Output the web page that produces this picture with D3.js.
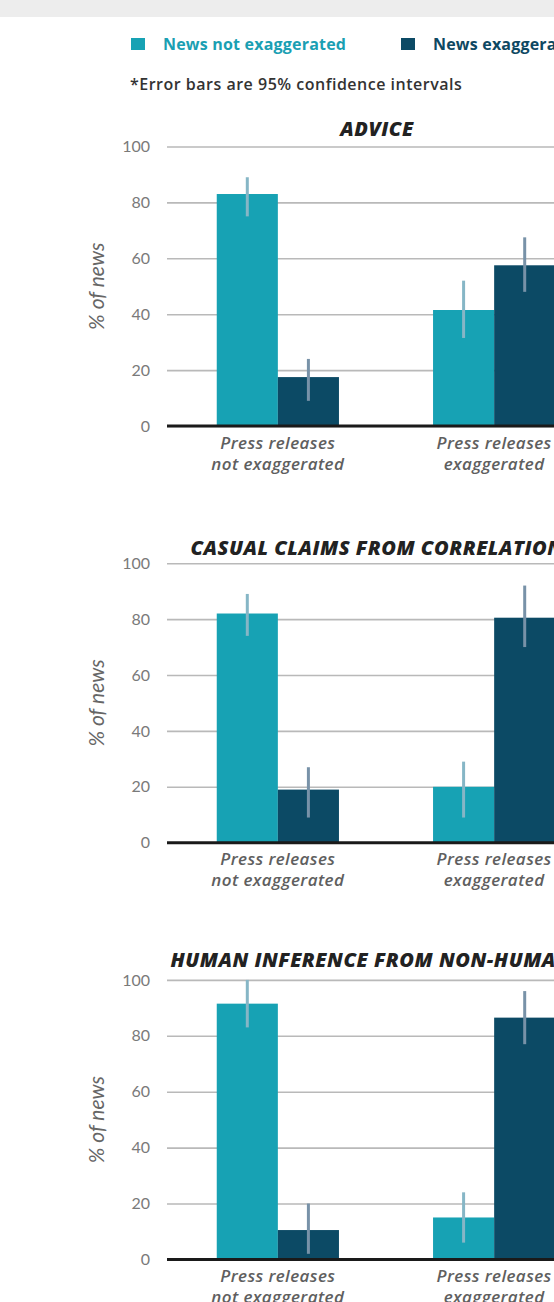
<!DOCTYPE html>
<html>
<head>
<meta charset="utf-8">
<script src="https://cdn.jsdelivr.net/npm/d3@7"></script>
<style>
  html, body { margin: 0; padding: 0; background: #fff; overflow: hidden; }
  svg { display: block; }
</style>
</head>
<body>
<div id="chart"></div>
<script>
// Share of news stories by press-release exaggeration, three claim types
const categories = ["Press releases not exaggerated", "Press releases exaggerated"];
const categoryLines = [["Press releases", "not exaggerated"], ["Press releases", "exaggerated"]];
const seriesNames = ["News not exaggerated", "News exaggerated"];
const panelTitles = ["ADVICE", "CASUAL CLAIMS FROM CORRELATION", "HUMAN INFERENCE FROM NON-HUMANS"];
const yTicks = [0, 20, 40, 60, 80, 100];

// Values (% of news) per category, one array per series and panel
const adviceNotExag = [83, 41.5];
const adviceExag = [17.5, 57.5];
const causalNotExag = [82, 20];
const causalExag = [19, 80.5];
const humanNotExag = [91.5, 15];
const humanExag = [10.5, 86.5];

// 95% confidence intervals [low, high]
const adviceNotExagCI = [[75, 89], [31.5, 52]];
const adviceExagCI = [[9, 24], [48, 67.5]];
const causalNotExagCI = [[74, 89], [9, 29]];
const causalExagCI = [[9, 27], [70, 92]];
const humanNotExagCI = [[83, 100], [6, 24]];
const humanExagCI = [[2, 20], [77, 96]];

const panelValues = [
  [adviceNotExag, adviceExag],
  [causalNotExag, causalExag],
  [humanNotExag, humanExag]
];
const panelCIs = [
  [adviceNotExagCI, adviceExagCI],
  [causalNotExagCI, causalExagCI],
  [humanNotExagCI, humanExagCI]
];

const colors = ["#17a2b4", "#0c4a65"];
const W = 554, H = 1302;

const svg = d3.select("#chart").append("svg")
  .attr("width", W).attr("height", H);

// top strip
svg.append("rect").attr("x", 0).attr("y", 0).attr("width", W).attr("height", 17)
  .attr("fill", "#ededed");

// legend
const legendX = [131, 401];
const legend = svg.append("g");
seriesNames.forEach((name, i) => {
  legend.append("rect").attr("x", legendX[i]).attr("y", 38).attr("width", 14).attr("height", 12)
    .attr("fill", colors[i]);
  legend.append("text").attr("x", legendX[i] + 32).attr("y", 49.5)
    .attr("font-family", "Open Sans").attr("font-weight", 700).attr("font-size", 16)
    .attr("letter-spacing", 0.2)
    .attr("fill", i === 0 ? "#1a9fb3" : "#0e4862")
    .text(name);
});
svg.append("text").attr("x", 130).attr("y", 90)
  .attr("font-family", "Open Sans").attr("font-weight", 600).attr("font-size", 16)
  .attr("letter-spacing", 0.5)
  .attr("fill", "#333")
  .text("*Error bars are 95% confidence intervals");

const plotLeft = 167, plotRight = 605, plotH = 279.5;
const panelTops = [146.5, 563.2, 979.9];
const titleGaps = [11, 8, 13];
const titleCenterX = 377;

const x0 = d3.scaleBand().domain(categories).range([plotLeft, plotRight])
  .paddingInner(0.435).paddingOuter(0.23);
const x1 = d3.scaleBand().domain(seriesNames).range([0, x0.bandwidth()]);

panelTitles.forEach((title, p) => {
  const top = panelTops[p];
  const y = d3.scaleLinear().domain([0, 100]).range([top + plotH, top]);
  const g = svg.append("g");

  // gridlines + tick labels
  const axis = d3.axisLeft(y).tickValues(yTicks).tickSize(-(plotRight - plotLeft)).tickPadding(17);
  const ax = g.append("g").attr("transform", `translate(${plotLeft},0)`).call(axis);
  ax.select(".domain").remove();
  ax.selectAll(".tick line").attr("stroke", "#b9b9b9").attr("stroke-width", 1.6);
  ax.selectAll(".tick text").attr("font-family", "Lato").attr("font-size", 16)
    .attr("fill", "#7a7a7a");

  // title
  g.append("text").attr("x", titleCenterX).attr("y", top - titleGaps[p])
    .attr("text-anchor", "middle")
    .attr("font-family", "Open Sans").attr("font-weight", 800).attr("font-style", "italic")
    .attr("font-size", 20).attr("letter-spacing", 0.5).attr("fill", "#222")
    .text(title);

  // y label
  g.append("text")
    .attr("transform", `translate(104,${top + plotH / 2}) rotate(-90)`)
    .attr("text-anchor", "middle")
    .attr("font-family", "Lato").attr("font-style", "italic").attr("font-size", 21)
    .attr("fill", "#666")
    .text("% of news");

  // bars
  seriesNames.forEach((s, si) => {
    const vals = panelValues[p][si];
    g.append("g").selectAll("rect").data(categories).join("rect")
      .attr("x", (c) => x0(c) + x1(s))
      .attr("width", x1.bandwidth())
      .attr("y", (c, i) => y(vals[i]))
      .attr("height", (c, i) => y(0) - y(vals[i]))
      .attr("fill", colors[si]);
  });

  // error bars
  seriesNames.forEach((s, si) => {
    const cis = panelCIs[p][si];
    g.append("g").selectAll("line").data(categories).join("line")
      .attr("x1", (c) => x0(c) + x1(s) + x1.bandwidth() / 2)
      .attr("x2", (c) => x0(c) + x1(s) + x1.bandwidth() / 2)
      .attr("y1", (c, i) => y(cis[i][0]))
      .attr("y2", (c, i) => y(cis[i][1]))
      .attr("stroke", si === 0 ? "#86b6c6" : "#7892a8")
      .attr("stroke-width", 3);
  });

  // zero line
  g.append("line").attr("x1", plotLeft).attr("x2", plotRight)
    .attr("y1", y(0)).attr("y2", y(0))
    .attr("stroke", "#1a1a1a").attr("stroke-width", 3);

  // category labels
  categories.forEach((c, ci) => {
    const t = g.append("text")
      .attr("x", x0(c) + x0.bandwidth() / 2)
      .attr("y", y(0) + 22.5)
      .attr("text-anchor", "middle")
      .attr("font-family", "Open Sans").attr("font-style", "italic").attr("font-weight", 600)
      .attr("font-size", 17).attr("letter-spacing", 0.4)
      .attr("fill", "#5f5f5f");
    categoryLines[ci].forEach((line, li) => {
      t.append("tspan").attr("x", x0(c) + x0.bandwidth() / 2).attr("dy", li === 0 ? 0 : 21).text(line);
    });
  });
});
</script>
</body>
</html>
